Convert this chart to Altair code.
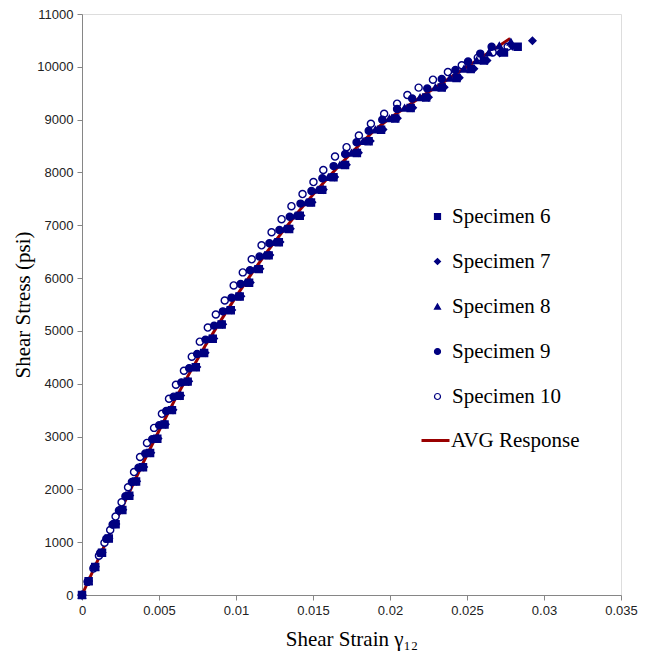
import altair as alt
import pandas as pd

# ---- data ----
S6_STRAIN = [0, 0.00043, 0.00086, 0.00130, 0.00174, 0.00218, 0.00262, 0.00307, 0.00351, 0.00396,
             0.00442, 0.00489, 0.00536, 0.00584, 0.00634, 0.00686, 0.00739, 0.00793, 0.00849, 0.00907,
             0.00966, 0.01024, 0.01085, 0.01148, 0.01212, 0.01278, 0.01345, 0.01414, 0.01487, 0.01560,
             0.01633, 0.01708, 0.01785, 0.01861, 0.01942, 0.02034, 0.02134, 0.02235, 0.02336, 0.02432,
             0.02524, 0.02610, 0.02740, 0.02829]
S6_STRESS = [0, 260, 530, 800, 1070, 1340, 1610, 1880, 2150, 2420,
             2690, 2960, 3230, 3500, 3770, 4040, 4310, 4580, 4850, 5120,
             5390, 5650, 5910, 6170, 6430, 6680, 6930, 7180, 7430, 7670,
             7910, 8140, 8370, 8590, 8810, 9020, 9220, 9420, 9610, 9790,
             9960, 10120, 10270, 10380]

S7_STRAIN = [0, 0.00043, 0.00087, 0.00131, 0.00175, 0.00220, 0.00265, 0.00310, 0.00355, 0.00401,
             0.00447, 0.00494, 0.00542, 0.00591, 0.00641, 0.00693, 0.00746, 0.00800, 0.00856, 0.00914,
             0.00973, 0.01032, 0.01093, 0.01156, 0.01220, 0.01286, 0.01353, 0.01422, 0.01494, 0.01567,
             0.01641, 0.01717, 0.01795, 0.01872, 0.01955, 0.02048, 0.02148, 0.02250, 0.02352, 0.02450,
             0.02545, 0.02630, 0.02712, 0.02795, 0.02925]
S7_STRESS = [0, 265, 535, 805, 1075, 1345, 1615, 1885, 2155, 2425,
             2695, 2965, 3235, 3505, 3775, 4045, 4315, 4585, 4855, 5125,
             5395, 5655, 5915, 6175, 6435, 6685, 6935, 7185, 7435, 7675,
             7915, 8145, 8375, 8595, 8815, 9025, 9225, 9425, 9615, 9795,
             9965, 10120, 10260, 10390, 10494]

S8_STRAIN = [0, 0.00041, 0.00083, 0.00125, 0.00167, 0.00210, 0.00253, 0.00297, 0.00340, 0.00384,
             0.00429, 0.00475, 0.00521, 0.00568, 0.00617, 0.00668, 0.00720, 0.00773, 0.00828, 0.00885,
             0.00943, 0.01000, 0.01060, 0.01122, 0.01185, 0.01250, 0.01316, 0.01384, 0.01456, 0.01528,
             0.01600, 0.01674, 0.01750, 0.01825, 0.01905, 0.01996, 0.02095, 0.02195, 0.02295, 0.02390,
             0.02480, 0.02563, 0.02642, 0.02710, 0.02785]
S8_STRESS = [0, 260, 530, 800, 1070, 1340, 1610, 1880, 2150, 2420,
             2690, 2960, 3230, 3500, 3770, 4040, 4310, 4580, 4850, 5120,
             5390, 5650, 5910, 6170, 6430, 6680, 6930, 7180, 7430, 7670,
             7910, 8140, 8370, 8590, 8810, 9020, 9220, 9420, 9610, 9790,
             9960, 10120, 10270, 10400, 10470]

S9_STRAIN = [0, 0.00038, 0.00078, 0.00118, 0.00158, 0.00199, 0.00240, 0.00282, 0.00324, 0.00367,
             0.00411, 0.00456, 0.00501, 0.00547, 0.00595, 0.00645, 0.00696, 0.00748, 0.00802, 0.00858,
             0.00915, 0.00971, 0.01030, 0.01091, 0.01153, 0.01217, 0.01282, 0.01349, 0.01419, 0.01490,
             0.01561, 0.01634, 0.01709, 0.01783, 0.01862, 0.01950, 0.02046, 0.02144, 0.02242, 0.02336,
             0.02425, 0.02507, 0.02586, 0.02660]
S9_STRESS = [0, 255, 525, 795, 1065, 1335, 1600, 1870, 2140, 2410,
             2680, 2950, 3215, 3485, 3755, 4025, 4295, 4565, 4835, 5100,
             5370, 5630, 5890, 6150, 6410, 6660, 6910, 7160, 7410, 7650,
             7890, 8120, 8350, 8570, 8790, 9000, 9200, 9400, 9590, 9770,
             9940, 10100, 10250, 10380]

S10_STRAIN = [0, 0.00037, 0.00074, 0.00110, 0.00146, 0.00183, 0.00218, 0.00257, 0.00299, 0.00338,
              0.00377, 0.00422, 0.00468, 0.00519, 0.00565, 0.00610, 0.00662, 0.00713, 0.00765, 0.00817,
              0.00869, 0.00927, 0.00985, 0.01044, 0.01102, 0.01166, 0.01231, 0.01296, 0.01360, 0.01432,
              0.01503, 0.01567, 0.01643, 0.01718, 0.01798, 0.01876, 0.01962, 0.02046, 0.02113, 0.02186,
              0.02279, 0.02376, 0.02466, 0.02570, 0.02667, 0.02764]
S10_STRESS = [0, 250, 500, 745, 990, 1230, 1485, 1755, 2040, 2328,
              2613, 2879, 3164, 3430, 3715, 3981, 4246, 4512, 4797, 5063,
              5310, 5576, 5861, 6108, 6355, 6621, 6868, 7115, 7362, 7590,
              7818, 8046, 8300, 8478, 8699, 8922, 9112, 9302, 9467, 9606,
              9756, 9900, 10030, 10174, 10271, 10380]

AVG_STRAIN = [0, 0.001, 0.002, 0.003, 0.004, 0.005, 0.006, 0.007, 0.008, 0.009,
              0.010, 0.011, 0.012, 0.013, 0.014, 0.015, 0.016, 0.017, 0.018, 0.019,
              0.020, 0.021, 0.022, 0.023, 0.024, 0.025, 0.026, 0.027, 0.0278]
AVG_STRESS = [0, 640, 1280, 1900, 2520, 3110, 3680, 4210, 4720, 5190,
              5650, 6080, 6490, 6870, 7240, 7580, 7910, 8220, 8520, 8800,
              9030, 9230, 9430, 9620, 9810, 10000, 10190, 10380, 10537]

SERIES = ["Specimen 6", "Specimen 7", "Specimen 8", "Specimen 9", "Specimen 10"]
SHAPES = ["square", "diamond", "triangle-up", "circle", "circle"]
FILLS = ["#000080", "#000080", "#000080", "#000080", "#ffffff"]
STROKES = ["#000080", "#000080", "#000080", "#000080", "#000080"]
AVG_NAME = ["AVG Response"]

X_TICKS = [0, 0.005, 0.01, 0.015, 0.02, 0.025, 0.03, 0.035]
Y_TICKS = [0, 1000, 2000, 3000, 4000, 5000, 6000, 7000, 8000, 9000, 10000, 11000]

NAVY = "#000080"
RED = "#990000"

# ---- tables ----
frames = []
for name, sx, sy in zip(SERIES,
                        [S6_STRAIN, S7_STRAIN, S8_STRAIN, S9_STRAIN, S10_STRAIN],
                        [S6_STRESS, S7_STRESS, S8_STRESS, S9_STRESS, S10_STRESS]):
    frames.append(pd.DataFrame({"strain": sx, "stress": sy, "series": name}))
pts_df = pd.concat(frames, ignore_index=True)
avg_df = pd.DataFrame({"strain": AVG_STRAIN, "stress": AVG_STRESS, "avg": AVG_NAME[0]})

x_enc = alt.X("strain:Q",
              scale=alt.Scale(domain=[0, 0.035], nice=False, zero=False),
              axis=alt.Axis(values=X_TICKS, format="~g", title="Shear Strain γ₁₂",
                            titleFont="Liberation Serif", titleFontSize=21,
                            titleFontWeight="normal", titleColor="#000000",
                            titlePadding=11,
                            labelFont="Liberation Sans", labelFontSize=13,
                            labelColor="#222222", labelPadding=4,
                            tickSize=5, tickColor="#868686", domainColor="#868686",
                            grid=False, labelFlush=False))
y_enc = alt.Y("stress:Q",
              scale=alt.Scale(domain=[0, 11000], nice=False, zero=False),
              axis=alt.Axis(values=Y_TICKS, format="d", title="Shear Stress (psi)",
                            titleFont="Liberation Serif", titleFontSize=21,
                            titleFontWeight="normal", titleColor="#000000",
                            titlePadding=3,
                            labelFont="Liberation Sans", labelFontSize=13,
                            labelColor="#222222", labelPadding=4,
                            tickSize=5, tickColor="#868686", domainColor="#868686",
                            grid=False, labelFlush=False))

pt_legend = alt.Legend(title=None, orient="none", legendX=345, legendY=192,
                       labelFont="Liberation Serif", labelFontSize=21, labelColor="#000000",
                       labelOffset=4, rowPadding=23, symbolSize=36,
                       symbolStrokeWidth=1.2, padding=0)

avg_line = alt.Chart(avg_df).mark_line(strokeWidth=3).encode(
    x=x_enc, y=y_enc,
    color=alt.Color("avg:N", scale=alt.Scale(domain=AVG_NAME, range=[RED]),
                    legend=alt.Legend(title=None, orient="none", legendX=338, legendY=411,
                                      labelFont="Liberation Serif", labelFontSize=21,
                                      labelColor="#000000", labelOffset=0,
                                      symbolType="stroke", symbolSize=784,
                                      symbolStrokeWidth=3, padding=0)),
)

points = alt.Chart(pts_df).mark_point(size=50, strokeWidth=1.4, opacity=1).encode(
    x=x_enc, y=y_enc,
    shape=alt.Shape("series:N", scale=alt.Scale(domain=SERIES, range=SHAPES), legend=pt_legend),
    fill=alt.Fill("series:N", scale=alt.Scale(domain=SERIES, range=FILLS), legend=pt_legend),
    stroke=alt.Stroke("series:N", scale=alt.Scale(domain=SERIES, range=STROKES), legend=pt_legend),
    order=alt.Order("series:N"),
)

chart = alt.layer(avg_line, points).properties(
    width=539, height=581,
    padding={"left": 82, "top": 14, "right": 28, "bottom": 67},
    autosize=alt.AutoSizeParams(type="none"),
).configure_view(stroke=None).configure(background="white")

chart.save("out.html", embed_options={"renderer": "svg", "actions": False})
